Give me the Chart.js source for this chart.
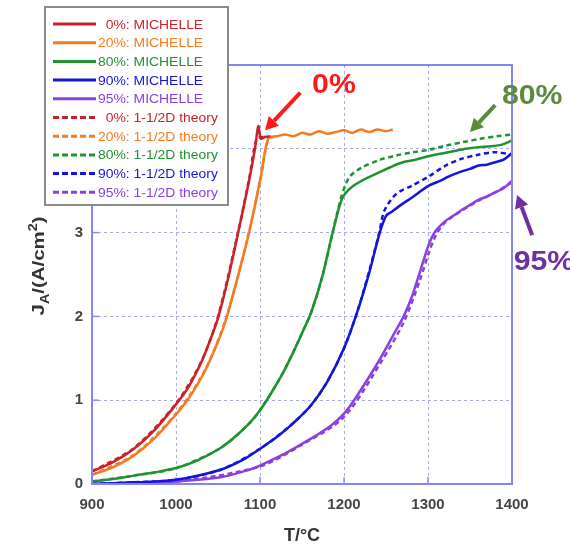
<!DOCTYPE html>
<html>
<head>
<meta charset="utf-8">
<script src="https://cdn.jsdelivr.net/npm/chart.js@4.4.0/dist/chart.umd.min.js"></script>
<style>
  html, body { margin: 0; padding: 0; background: #fff; }
</style>
</head>
<body>
<canvas id="jaChart" width="570" height="549"></canvas>
<script>
// T (°C) and J_A (A/cm2)
// 0%
const t0 = [900, 925, 950, 975, 1000, 1015, 1030, 1040, 1050, 1062, 1074, 1087, 1094, 1098, 1101, 1106, 1112];
const m0 = [0.15, 0.26, 0.42, 0.65, 0.95, 1.16, 1.45, 1.7, 1.98, 2.45, 3.0, 3.62, 4.0, 4.27, 4.12, 4.14, 4.15];
const tt0 = [900, 950, 1000, 1030, 1050, 1074, 1087, 1096, 1104];
const th0 = [0.15, 0.43, 0.96, 1.46, 2.0, 3.01, 3.64, 4.12, 4.14];
// 20%
const t20 = [900, 925, 950, 975, 1000, 1015, 1034, 1052, 1060, 1073, 1087, 1101, 1110, 1120, 1130, 1140, 1150, 1160, 1170, 1180, 1190, 1200, 1210, 1220, 1230, 1240, 1250, 1258];
const m20 = [0.11, 0.2, 0.34, 0.55, 0.83, 1.02, 1.34, 1.75, 1.98, 2.45, 3.0, 3.67, 4.13, 4.15, 4.17, 4.15, 4.19, 4.17, 4.21, 4.18, 4.2, 4.22, 4.19, 4.23, 4.2, 4.23, 4.21, 4.23];
const tt20 = [900, 950, 1000, 1034, 1060, 1087, 1101, 1110, 1118];
const th20 = [0.11, 0.35, 0.84, 1.35, 1.99, 3.01, 3.66, 4.12, 4.14];
// 80%
const t80 = [900, 925, 950, 975, 1000, 1025, 1053, 1070, 1087, 1100, 1113, 1127, 1140, 1150, 1161, 1174, 1186, 1196, 1201, 1210, 1223, 1240, 1255, 1270, 1285, 1300, 1315, 1330, 1345, 1360, 1375, 1388, 1400];
const m80 = [0.03, 0.06, 0.1, 0.14, 0.19, 0.28, 0.43, 0.56, 0.72, 0.88, 1.08, 1.32, 1.58, 1.8, 2.05, 2.47, 2.98, 3.36, 3.46, 3.55, 3.63, 3.71, 3.78, 3.84, 3.87, 3.91, 3.94, 3.97, 4.0, 4.02, 4.03, 4.05, 4.1];
const tt80 = [900, 950, 1000, 1053, 1087, 1100, 1127, 1150, 1161, 1174, 1186, 1196, 1201, 1207, 1220, 1243, 1262, 1282, 1302, 1322, 1342, 1362, 1382, 1400];
const th80 = [0.03, 0.1, 0.19, 0.43, 0.72, 0.88, 1.32, 1.8, 2.05, 2.47, 2.98, 3.4, 3.55, 3.67, 3.77, 3.87, 3.92, 3.96, 3.99, 4.04, 4.08, 4.12, 4.15, 4.17];
// 90%
const t90 = [900, 950, 1000, 1053, 1080, 1100, 1120, 1140, 1160, 1180, 1200, 1215, 1230, 1242, 1250, 1257, 1265, 1281, 1301, 1315, 1325, 1340, 1350, 1360, 1370, 1380, 1390, 1400];
const m90 = [0.0, 0.02, 0.05, 0.17, 0.29, 0.42, 0.56, 0.73, 0.93, 1.22, 1.62, 2.03, 2.52, 2.98, 3.2, 3.25, 3.31, 3.42, 3.56, 3.62, 3.67, 3.73, 3.76, 3.8, 3.81, 3.84, 3.87, 3.95];
const tt90 = [900, 950, 1000, 1053, 1100, 1140, 1160, 1180, 1200, 1215, 1230, 1242, 1248, 1262, 1281, 1301, 1321, 1340, 1360, 1380, 1400];
const th90 = [0.0, 0.02, 0.05, 0.17, 0.42, 0.73, 0.93, 1.22, 1.62, 2.03, 2.54, 3.0, 3.26, 3.46, 3.56, 3.67, 3.8, 3.88, 3.93, 3.96, 3.93];
// 95%
const t95 = [900, 950, 1000, 1053, 1087, 1100, 1127, 1145, 1167, 1185, 1200, 1212, 1230, 1245, 1260, 1271, 1281, 1291, 1301, 1309, 1321, 1330, 1340, 1350, 1360, 1370, 1380, 1390, 1400];
const m95 = [0.0, 0.01, 0.03, 0.08, 0.17, 0.22, 0.35, 0.45, 0.58, 0.7, 0.84, 1.0, 1.28, 1.53, 1.8, 2.0, 2.24, 2.55, 2.86, 3.02, 3.14, 3.2, 3.27, 3.33, 3.39, 3.43, 3.48, 3.53, 3.62];
const tt95 = [900, 1000, 1100, 1150, 1200, 1245, 1271, 1291, 1301, 1309, 1320, 1340, 1360, 1380, 1400];
const th95 = [0.0, 0.03, 0.21, 0.47, 0.8, 1.47, 1.93, 2.45, 2.76, 2.96, 3.12, 3.26, 3.38, 3.48, 3.6];

const xTicks = [900, 1000, 1100, 1200, 1300, 1400];
const labels = ['0%: MICHELLE', '20%: MICHELLE', '80%: MICHELLE', '90%: MICHELLE', '95%: MICHELLE',
  '0%: 1-1/2D theory', '20%: 1-1/2D theory', '80%: 1-1/2D theory', '90%: 1-1/2D theory', '95%: 1-1/2D theory'];
const colors = ['#c8222a', '#f47b20', '#1f9330', '#1414e0', '#8a3fe2'];

const series = [[t0, m0], [t20, m20], [t80, m80], [t90, m90], [t95, m95],
  [tt0, th0], [tt20, th20], [tt80, th80], [tt90, th90], [tt95, th95]];

const FONT = '"Liberation Sans", Arial, sans-serif';

const datasets = series.map(([ts, js], i) => ({
  label: labels[i],
  data: ts.map((t, k) => ({ x: t, y: js[k] })),
  borderColor: colors[i % 5],
  borderWidth: 2.5,
  borderDash: i >= 5 ? [5, 3.5] : [],
  pointRadius: 0,
  fill: false,
  tension: 0.3
}));

// annotations placed in data units
const notes = [
  { text: '0%', color: '#ff1a1a', at: [1188, 4.76], tail: [1148, 4.67], tip: [1106, 4.22] },
  { text: '80%', color: '#5a8a3a', at: [1424, 4.63], tail: [1380, 4.52], tip: [1350, 4.2] },
  { text: '95%', color: '#7030a0', at: [1438, 2.64], tail: [1424, 2.97], tip: [1406, 3.45] }
];

function arrow(ctx, x1, y1, x2, y2, color) {
  const a = Math.atan2(y2 - y1, x2 - x1), head = 13, half = 7;
  const bx = x2 - head * Math.cos(a), by = y2 - head * Math.sin(a);
  ctx.strokeStyle = color;
  ctx.lineWidth = 4;
  ctx.beginPath(); ctx.moveTo(x1, y1); ctx.lineTo(bx, by); ctx.stroke();
  ctx.fillStyle = color;
  ctx.beginPath();
  ctx.moveTo(x2, y2);
  ctx.lineTo(bx + half * Math.sin(a), by - half * Math.cos(a));
  ctx.lineTo(bx - half * Math.sin(a), by + half * Math.cos(a));
  ctx.closePath(); ctx.fill();
}

const extras = {
  id: 'extras',
  beforeDatasetsDraw(chart) {
    const { ctx, chartArea: c, scales: { x, y } } = chart;
    ctx.save();
    // little inward ticks
    ctx.strokeStyle = '#8c8cf0';
    ctx.lineWidth = 1.5;
    xTicks.forEach(v => {
      const px = x.getPixelForValue(v);
      ctx.beginPath(); ctx.moveTo(px, c.bottom); ctx.lineTo(px, c.bottom - 7); ctx.stroke();
    });
    for (let v = 0; v <= 5; v++) {
      const py = y.getPixelForValue(v);
      ctx.beginPath(); ctx.moveTo(c.left, py); ctx.lineTo(c.left + 7, py); ctx.stroke();
    }
    ctx.restore();
  },
  afterDraw(chart) {
    const { ctx, chartArea: c, scales: { x, y } } = chart;
    ctx.save();
    // plot frame
    ctx.strokeStyle = '#8585f2';
    ctx.lineWidth = 2;
    ctx.strokeRect(c.left, c.top, c.right - c.left, c.bottom - c.top);

    // y title with subscript / superscript
    ctx.save();
    ctx.translate(38, 266);
    ctx.rotate(-Math.PI / 2);
    ctx.scale(1.2, 1);
    ctx.fillStyle = '#333';
    ctx.textBaseline = 'alphabetic';
    const big = 'bold 17px ' + FONT, small = 'bold 12px ' + FONT;
    const parts = [['J', big, 0], ['A', small, 5], ['/(A/cm', big, 0], ['2', small, -7], [')', big, 0]];
    let w = 0;
    parts.forEach(p => { ctx.font = p[1]; w += ctx.measureText(p[0]).width; });
    let px = -w / 2;
    parts.forEach(p => { ctx.font = p[1]; ctx.fillText(p[0], px, 6 + p[2]); px += ctx.measureText(p[0]).width; });
    ctx.restore();

    // legend box
    ctx.fillStyle = '#fff';
    ctx.fillRect(45, 7, 183, 198);
    ctx.strokeStyle = '#8a8a8a';
    ctx.lineWidth = 2;
    ctx.strokeRect(45, 7, 183, 198);
    ctx.font = '13px ' + FONT;
    ctx.textBaseline = 'middle';
    chart.data.datasets.forEach((ds, i) => {
      const ly = 24 + i * 18.7;
      ctx.strokeStyle = ds.borderColor;
      ctx.lineWidth = 3;
      ctx.setLineDash(i >= 5 ? [6, 3] : []);
      ctx.beginPath(); ctx.moveTo(53, ly); ctx.lineTo(96, ly); ctx.stroke();
      ctx.setLineDash([]);
      let lx = 98;
      if (ds.label.startsWith('0%')) lx += ctx.measureText('2').width * 1.07;
      ctx.save();
      ctx.translate(lx, ly + 1);
      ctx.scale(1.07, 1);
      ctx.fillStyle = ds.borderColor;
      ctx.fillText(ds.label, 0, 0);
      ctx.restore();
    });

    // arrows and percent labels
    notes.forEach(n => {
      arrow(ctx, x.getPixelForValue(n.tail[0]), y.getPixelForValue(n.tail[1]),
        x.getPixelForValue(n.tip[0]), y.getPixelForValue(n.tip[1]), n.color);
      ctx.save();
      ctx.translate(x.getPixelForValue(n.at[0]), y.getPixelForValue(n.at[1]));
      ctx.scale(1.08, 1);
      ctx.font = 'bold 28px ' + FONT;
      ctx.fillStyle = n.color;
      ctx.textAlign = 'center';
      ctx.textBaseline = 'middle';
      ctx.fillText(n.text, 0, 0);
      ctx.restore();
    });
    ctx.restore();
  }
};

new Chart(document.getElementById('jaChart'), {
  type: 'line',
  data: { datasets },
  options: {
    responsive: false,
    animation: false,
    layout: { padding: { top: 65, right: 58, left: 0, bottom: 0 } },
    plugins: { legend: { display: false }, tooltip: { enabled: false } },
    scales: {
      x: {
        type: 'linear', min: 900, max: 1400,
        afterFit: s => { s.height = 65; },
        afterBuildTicks: s => { s.ticks = xTicks.map(v => ({ value: v })); },
        ticks: { font: { family: FONT, size: 15, weight: 'bold' }, color: '#444', padding: 12, maxRotation: 0,
          callback: v => String(v) },
        grid: { color: '#a9a9f3', lineWidth: 1, drawTicks: false },
        border: { display: false, dash: [3, 3] },
        title: { display: true, text: 'T/°C', font: { family: FONT, size: 18, weight: 'bold' }, color: '#333', padding: { top: 0, bottom: 2 } }
      },
      y: {
        min: 0, max: 5,
        afterFit: s => { s.width = 92; },
        ticks: { stepSize: 1, font: { family: FONT, size: 15, weight: 'bold' }, color: '#444', padding: 9 },
        grid: { color: '#a9a9f3', lineWidth: 1, drawTicks: false },
        border: { display: false, dash: [3, 3] }
      }
    }
  },
  plugins: [extras]
});
</script>
</body>
</html>
